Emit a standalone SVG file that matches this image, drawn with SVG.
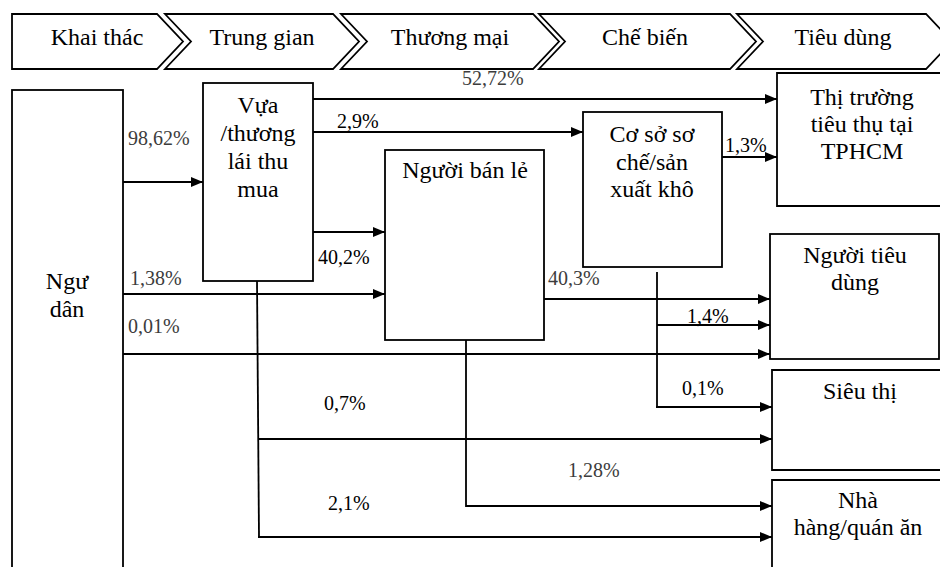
<svg xmlns="http://www.w3.org/2000/svg" width="940" height="567" viewBox="0 0 940 567">
<defs>
<marker id="arr" markerUnits="userSpaceOnUse" markerWidth="13" markerHeight="11" refX="12" refY="5" orient="auto">
<path d="M0,0 L12,5 L0,10 z" fill="#000"/>
</marker>
<style>
.box{fill:#fff;stroke:#000;stroke-width:1.8}
.chev{fill:#fff;stroke:#000;stroke-width:1.8;stroke-linejoin:miter}
.t{font-family:"Liberation Serif","Times New Roman",serif;font-size:24px;fill:#000;text-anchor:middle}
.p{font-family:"Liberation Serif","Times New Roman",serif;font-size:20px;fill:#000}
.g{fill:#3c3c3c}
.c{fill:none;stroke:#000;stroke-width:1.8}
.a{marker-end:url(#arr)}
</style>
</defs>
<rect width="940" height="567" fill="#fff"/>
<g id="stages">
<g id="stage-khaithac"><path class="chev" d="M12,14 L157,14 L183,41.5 L157,69 L12,69 Z"/><text class="t" x="97" y="45">Khai thác</text></g>
<g id="stage-trunggian"><path class="chev" d="M165,14 L333,14 L359,41.5 L333,69 L165,69 L191,41.5 Z"/><text class="t" x="262" y="45">Trung gian</text></g>
<g id="stage-thuongmai"><path class="chev" d="M341,14 L533,14 L559,41.5 L533,69 L341,69 L367,41.5 Z"/><text class="t" x="450" y="45">Thương mại</text></g>
<g id="stage-chebien"><path class="chev" d="M539,14 L730,14 L756,41.5 L730,69 L539,69 L565,41.5 Z"/><text class="t" x="645" y="45">Chế biến</text></g>
<g id="stage-tieudung"><path class="chev" d="M737,14 L926,14 L952,41.5 L926,69 L737,69 L763,41.5 Z"/><text class="t" x="843" y="45">Tiêu dùng</text></g>
</g>
<g id="connectors">
<line class="c a" x1="123" y1="182" x2="203" y2="182"/>
<line class="c a" x1="123" y1="294" x2="385" y2="294"/>
<line class="c a" x1="123" y1="354" x2="770" y2="354"/>
<line class="c a" x1="313" y1="99" x2="777" y2="99"/>
<line class="c a" x1="313" y1="132" x2="583" y2="132"/>
<line class="c a" x1="313" y1="232" x2="385" y2="232"/>
<line class="c a" x1="722" y1="157" x2="777" y2="157"/>
<line class="c a" x1="544" y1="299" x2="770" y2="299"/>
<line class="c" x1="657" y1="272" x2="657" y2="407"/>
<line class="c a" x1="657" y1="325" x2="770" y2="325"/>
<line class="c a" x1="656" y1="407" x2="772" y2="407"/>
<line class="c" x1="257" y1="281" x2="259" y2="538"/>
<line class="c a" x1="258" y1="439" x2="772" y2="439"/>
<line class="c a" x1="258" y1="537" x2="772" y2="537"/>
<polyline class="c a" points="466,340 466,506 772,506"/>
</g>
<g id="node-ngudan"><rect class="box" x="12" y="90" width="111" height="490"/><text class="t" x="67" y="289">Ngư</text><text class="t" x="67" y="317">dân</text></g>
<g id="node-vua"><rect class="box" x="203" y="83" width="110" height="198"/><text class="t" x="258" y="113">Vựa</text><text class="t" x="258" y="141">/thương</text><text class="t" x="258" y="169">lái thu</text><text class="t" x="258" y="197">mua</text></g>
<g id="node-nguoibanle"><rect class="box" x="385" y="150" width="159" height="190"/><text class="t" x="465" y="178">Người bán lẻ</text></g>
<g id="node-coso"><rect class="box" x="583" y="112" width="139" height="155"/><text class="t" x="652" y="142">Cơ sở sơ</text><text class="t" x="652" y="170">chế/sản</text><text class="t" x="652" y="197">xuất khô</text></g>
<g id="node-thitruong"><path class="box" d="M950,73 L777,73 L777,206 L950,206"/><text class="t" x="862" y="105">Thị trường</text><text class="t" x="862" y="132">tiêu thụ tại</text><text class="t" x="862" y="159">TPHCM</text></g>
<g id="node-nguoitieudung"><rect class="box" x="770" y="234" width="169" height="125"/><text class="t" x="855" y="263">Người tiêu</text><text class="t" x="855" y="290">dùng</text></g>
<g id="node-sieuthi"><path class="box" d="M950,370 L772,370 L772,470 L950,470"/><text class="t" x="860" y="399">Siêu thị</text></g>
<g id="node-nhahang"><path class="box" d="M950,480 L772,480 L772,580"/><text class="t" x="858" y="508">Nhà</text><text class="t" x="858" y="535">hàng/quán ăn</text></g>
<g id="labels">
<text class="p g" x="128" y="145">98,62%</text>
<text class="p g" x="130" y="285">1,38%</text>
<text class="p g" x="128" y="333">0,01%</text>
<text class="p g" x="462" y="85">52,72%</text>
<text class="p" x="337" y="128">2,9%</text>
<text class="p" x="318" y="264">40,2%</text>
<text class="p g" x="548" y="285">40,3%</text>
<text class="p" x="725" y="152">1,3%</text>
<text class="p" x="687" y="323">1,4%</text>
<text class="p" x="682" y="395">0,1%</text>
<text class="p" x="324" y="410">0,7%</text>
<text class="p" x="328" y="510">2,1%</text>
<text class="p g" x="568" y="477">1,28%</text>
</g>
</svg>
